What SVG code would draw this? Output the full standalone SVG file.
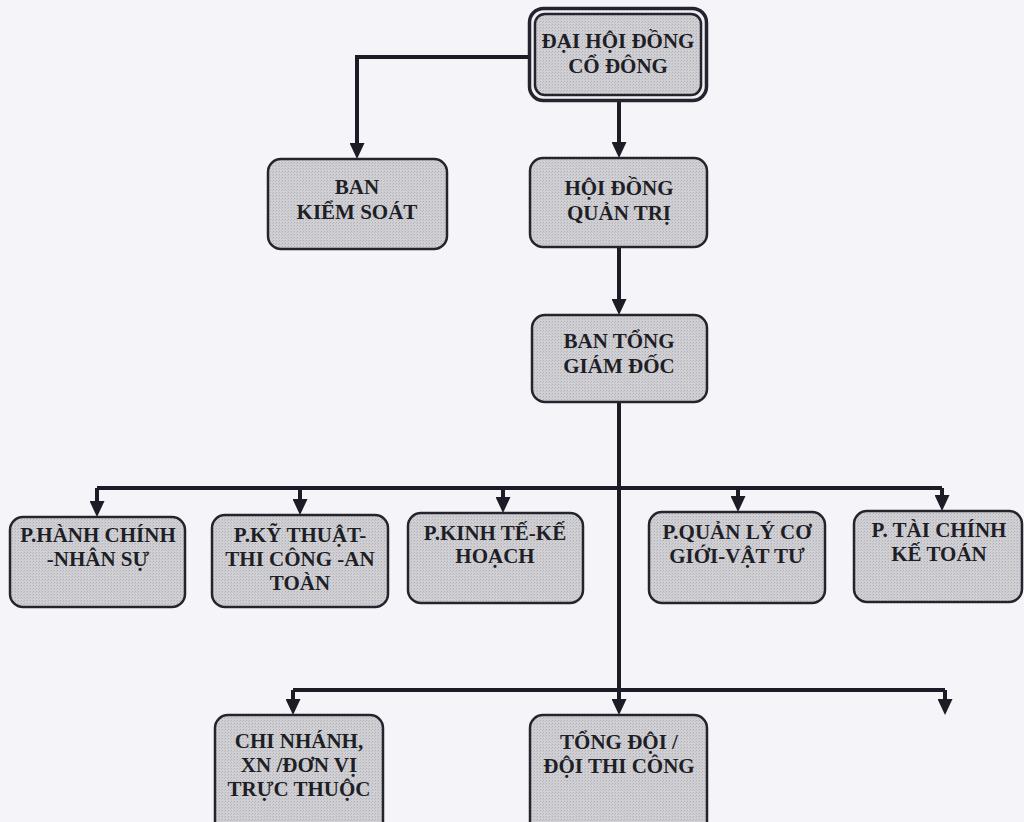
<svg xmlns="http://www.w3.org/2000/svg" width="1024" height="822" viewBox="0 0 1024 822">
<defs>
<pattern id="dots" width="3" height="3" patternUnits="userSpaceOnUse">
<rect width="3" height="3" fill="#d0d0d4"/>
<rect width="1" height="1" fill="#b0b0b7"/>
<rect x="2" y="1" width="1" height="1" fill="#bdbdc3"/>
</pattern>
<marker id="arr" markerUnits="userSpaceOnUse" markerWidth="16" markerHeight="15" refX="4" refY="7.5" orient="auto">
<path d="M0,0 L16,7.5 L0,15 z" fill="#1c1c26"/>
</marker>
<style>
.box{fill:url(#dots);stroke:#24242e;stroke-width:2.5}
.outer{fill:#eeeef3;stroke:#24242e;stroke-width:3.5}
.t{font-family:"Liberation Serif","Times New Roman",serif;font-weight:bold;font-size:21px;fill:#1e1e26;text-anchor:middle}
.c{fill:none;stroke:#1c1c26;stroke-width:4;marker-end:url(#arr)}
.l{fill:none;stroke:#1c1c26;stroke-width:4}
</style>
</defs>
<rect width="1024" height="822" fill="#f4f4f9"/>
<g id="connectors">
<path class="c" d="M528,57 H357 V147"/>
<path class="c" d="M619,102 V146"/>
<path class="c" d="M619,247 V303"/>
<path class="c" d="M619,402 V703"/>
<path class="l" d="M97,488 H942"/>
<path class="c" d="M97,488 V505"/>
<path class="c" d="M300,488 V503"/>
<path class="c" d="M503,488 V501"/>
<path class="c" d="M738,488 V500"/>
<path class="c" d="M942,488 V499"/>
<path class="l" d="M293,690 H945"/>
<path class="c" d="M293,690 V703"/>
<path class="c" d="M945,690 V703"/>
</g>
<g id="dai-hoi-dong-co-dong">
<rect class="outer" x="529.5" y="8.5" width="177" height="92" rx="14"/>
<rect class="box" x="535" y="14" width="166" height="81" rx="10"/>
<text class="t" x="618" y="48">ĐẠI HỘI ĐỒNG</text>
<text class="t" x="618" y="73">CỔ ĐÔNG</text>
</g>
<g id="ban-kiem-soat">
<rect class="box" x="268" y="159" width="179" height="90" rx="13"/>
<text class="t" x="357" y="194">BAN</text>
<text class="t" x="357" y="219">KIỂM SOÁT</text>
</g>
<g id="hoi-dong-quan-tri">
<rect class="box" x="530" y="158" width="177" height="89" rx="13"/>
<text class="t" x="619" y="195">HỘI ĐỒNG</text>
<text class="t" x="619" y="220">QUẢN TRỊ</text>
</g>
<g id="ban-tong-giam-doc">
<rect class="box" x="532" y="315" width="175" height="87" rx="13"/>
<text class="t" x="619" y="348">BAN TỔNG</text>
<text class="t" x="619" y="373">GIÁM ĐỐC</text>
</g>
<g id="p-hanh-chinh">
<rect class="box" x="10" y="517" width="175" height="90" rx="13"/>
<text class="t" x="98" y="542">P.HÀNH CHÍNH</text>
<text class="t" x="98" y="566">-NHÂN SỰ</text>
</g>
<g id="p-ky-thuat">
<rect class="box" x="212" y="515" width="176" height="92" rx="13"/>
<text class="t" x="300" y="542">P.KỸ THUẬT-</text>
<text class="t" x="300" y="566">THI CÔNG -AN</text>
<text class="t" x="300" y="590">TOÀN</text>
</g>
<g id="p-kinh-te">
<rect class="box" x="408" y="513" width="175" height="90" rx="13"/>
<text class="t" x="495" y="540">P.KINH TẾ-KẾ</text>
<text class="t" x="495" y="563">HOẠCH</text>
</g>
<g id="p-quan-ly-co-gioi">
<rect class="box" x="649" y="512" width="176" height="91" rx="13"/>
<text class="t" x="737" y="539">P.QUẢN LÝ CƠ</text>
<text class="t" x="737" y="563">GIỚI-VẬT TƯ</text>
</g>
<g id="p-tai-chinh">
<rect class="box" x="854" y="511" width="168" height="91" rx="13"/>
<text class="t" x="939" y="537">P. TÀI CHÍNH</text>
<text class="t" x="939" y="561">KẾ TOÁN</text>
</g>
<g id="chi-nhanh">
<rect class="box" x="215" y="715" width="168" height="120" rx="13"/>
<text class="t" x="299" y="748">CHI NHÁNH,</text>
<text class="t" x="299" y="772">XN /ĐƠN VỊ</text>
<text class="t" x="299" y="796">TRỰC THUỘC</text>
</g>
<g id="tong-doi">
<rect class="box" x="530" y="715" width="177" height="120" rx="13"/>
<text class="t" x="619" y="749">TỔNG ĐỘI /</text>
<text class="t" x="619" y="773">ĐỘI THI CÔNG</text>
</g>
</svg>
